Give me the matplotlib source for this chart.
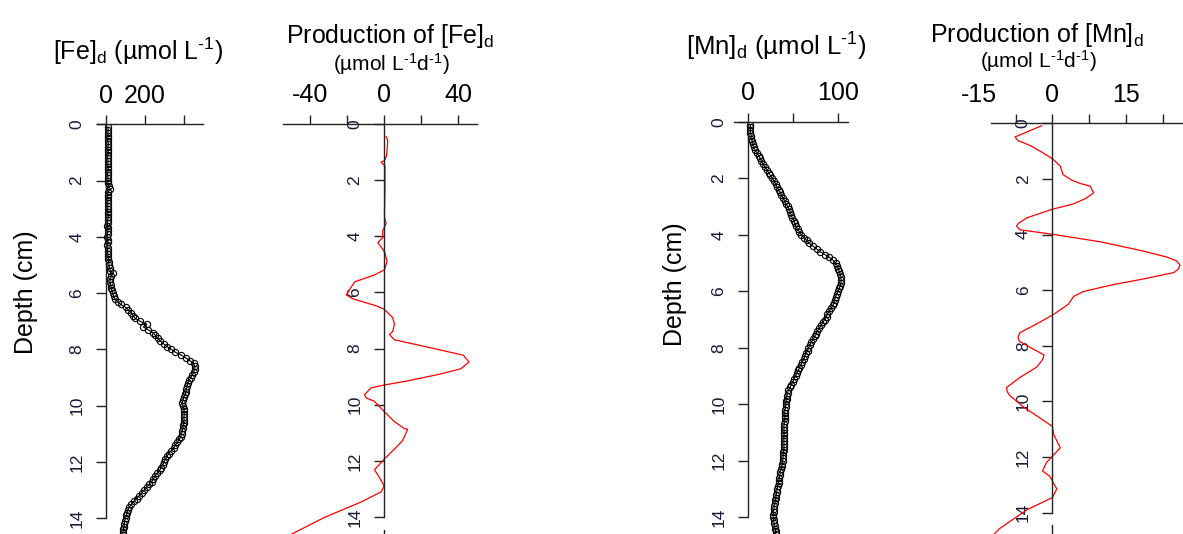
import numpy as np
import matplotlib
matplotlib.use('Agg')
import matplotlib.pyplot as plt

plt.rcParams['font.family'] = ['Liberation Sans', 'DejaVu Sans']
plt.rcParams['mathtext.fontset'] = 'custom'
plt.rcParams['mathtext.rm'] = 'Liberation Sans'
plt.rcParams['mathtext.default'] = 'regular'

# Глубина отбора (см), шаг 0.1
depth = np.round(np.arange(0.1, 14.65, 0.1), 1)

# [Fe]d, мкмоль/л
fe_conc = [10, 12, 9, 11, 10, 8, 12, 10, 9, 11,
           10, 8, 11, 9, 10, 12, 9, 8, 10, 11,
           9, 14, 22, 10, 8, 9, 11, 8, 10, 9,
           8, 10, 12, 9, 8, 7, 10, 9, 8, 7,
           9, 8, 7, 10, 8, 9, 11, 12, 14, 16,
           18, 22, 35, 28, 22, 20, 24, 26, 30, 35,
           40, 45, 60, 75, 100, 115, 130, 140, 150, 175,
           209, 191, 215, 240, 252, 265, 278, 295, 313, 335,
           356, 385, 409, 430, 449, 455, 456, 450, 443, 435,
           426, 420, 417, 412, 409, 405, 400, 395, 391, 395,
           400, 400, 402, 400, 400, 398, 396, 394, 391, 388,
           383, 375, 365, 356, 348, 335, 322, 313, 304, 298,
           292, 283, 275, 262, 252, 243, 235, 222, 209, 196,
           183, 170, 157, 143, 130, 120, 113, 108, 104, 100,
           96, 94, 92, 89, 87, 85]

# [Mn]d, мкмоль/л
mn_conc = [3, 3, 3, 3, 4, 4, 5, 6, 7, 8,
           10, 12, 14, 15, 17, 19, 21, 23, 25, 27,
           29, 31, 32, 34, 36, 37, 39, 41, 42, 44,
           46, 47, 48, 49, 51, 52, 53, 55, 57, 59,
           62, 65, 68, 72, 76, 80, 85, 90, 94, 97,
           99, 100, 101, 102, 103, 103, 103, 102, 101, 100,
           98, 97, 96, 95, 94, 92, 90, 88, 87, 85,
           83, 81, 79, 77, 75, 74, 72, 70, 69, 67,
           66, 64, 63, 62, 60, 59, 57, 56, 54, 53,
           51, 50, 48, 47, 45, 44, 43, 43, 42, 42,
           42, 41, 41, 41, 41, 41, 40, 40, 40, 40,
           40, 40, 40, 40, 40, 40, 39, 39, 39, 38.5,
           38, 37.5, 37, 36, 35.6, 35, 34.5, 34, 33, 32.7,
           32, 31.5, 31, 30.5, 30, 29.5, 29, 28.5, 28, 28,
           29, 29, 30, 30, 31, 31]

# Продукция [Fe]d, мкмоль/л/сут
fe_prod_depth = [0.46, 0.6, 1.13, 1.31, 1.37, 1.5, 2.35, 3.3, 3.56, 3.8,
                 4.05, 4.23, 4.47, 4.6, 4.9, 5.2, 5.38, 5.63, 6.0, 6.09,
                 6.23, 6.48, 6.6, 6.9, 7.14, 7.39, 7.5, 7.69, 7.87, 8.06,
                 8.24, 8.48, 8.72, 8.9, 9.15, 9.3, 9.4, 9.64, 9.76, 9.88,
                 10.24, 10.6, 10.85, 10.87, 11.28, 11.58, 11.94, 12.19, 12.31, 12.5,
                 12.8, 12.9, 13.1, 13.46, 14.0, 14.6]
fe_prod = [1.1, 2, 1.4, 0.2, -1.6, 0.5, 0.5, 0.2, 1.1, -0.7,
           -0.7, -3.4, -0.7, 0.5, 1.6, 0.2, -5.2, -16, -19.6, -20.5,
           -17, -4.3, 0, 4.7, 5.6, 4.7, 2.9, 5.6, 18, 31,
           43, 46, 41.6, 31, 12.8, 0, -7, -10.6, -9.7, -5.2,
           0, 5.6, 11, 12.8, 10, 5.6, 0, -3.4, -5.2, -3.4,
           -0.7, 0, -1.6, -12.4, -32, -50]

# Продукция [Mn]d, мкмоль/л/сут
mn_prod_depth = [0.09, 0.49, 0.62, 0.8, 1.0, 1.27, 1.54, 1.85, 2.05, 2.16,
                 2.26, 2.5, 2.7, 2.9, 3.09, 3.4, 3.6, 3.7, 3.83, 3.99,
                 4.26, 4.57, 4.81, 4.95, 5.1, 5.25, 5.37, 5.62, 5.8, 6.05,
                 6.23, 6.5, 6.9, 7.28, 7.53, 7.7, 7.84, 8.09, 8.33, 8.5,
                 8.77, 9.14, 9.5, 9.65, 9.8, 10.2, 10.6, 10.9, 11.2, 11.67,
                 11.98, 12.2, 12.5, 12.7, 13.15, 13.46, 13.9, 14.57, 14.8]
mn_prod = [-2.2, -7.6, -7.0, -4.5, -2.5, 0, 1.6, 2.2, 4.0, 5.6,
           7.7, 8.4, 6.8, 4.3, 0, -5.2, -6.9, -7.3, -6.6, 0,
           9.7, 17.9, 23.3, 25.3, 26.0, 25.6, 24.7, 17.9, 12.4, 6.3,
           4.3, 3.3, 0, -3.9, -6.6, -7.0, -6.7, -4.2, -1.7, -2.0,
           -3.2, -6.6, -9.3, -9.2, -8.6, -5.9, -2.5, 0, 0.3, 1.6,
           0, -1.2, -2.0, -0.5, 0.9, 0, -5.2, -10.7, -12]

W, H = 1183, 534
fig = plt.figure(figsize=(W / 100, H / 100), dpi=100)


def px_axes(left, right, top, bottom=H):
    return fig.add_axes([left / W, 1 - bottom / H, (right - left) / W, (bottom - top) / H])


def style_axes(ax, xlim, ybot, xticks, xlabels, xbounds=None):
    ax.set_xlim(*xlim)
    ax.set_ylim(ybot, 0)
    ax.patch.set_visible(False)
    for s in ['right', 'bottom']:
        ax.spines[s].set_visible(False)
    ax.spines['left'].set_position(('data', 0))
    ax.spines['left'].set_bounds(0, 14)
    if xbounds is not None:
        ax.spines['top'].set_bounds(*xbounds)
    for s in ['left', 'top']:
        ax.spines[s].set_color('#222222')
        ax.spines[s].set_linewidth(1.0)
    ax.xaxis.set_ticks_position('top')
    ax.set_xticks(xticks)
    ax.set_xticklabels(xlabels)
    ax.tick_params(axis='x', direction='out', length=6.5, width=1.0, color='#222222',
                   pad=5.5, labelsize=18)
    ax.set_yticks(range(0, 15, 2))
    ax.tick_params(axis='y', direction='out', length=7, width=1.0, color='#222222',
                   pad=8.5, labelsize=12.5, labelrotation=90, labelcolor='#1a1a3a')
    for lab in ax.get_yticklabels():
        lab.set_va('center')


# Fe, концентрация
ax1 = px_axes(96.7, 202.7, 124.3)
style_axes(ax1, (-47.7, 495.9), 14.56, [0, 200, 400], ['0', '200', ''])
ax1.plot(fe_conc, depth, color='black', lw=0.8, marker='o', ms=4.5,
         mfc='none', mec='black', mew=0.8)

# Fe, продукция
ax2 = px_axes(283.3, 476.7, 123.7)
style_axes(ax2, (-54.6, 50.2), 14.60, [-40, -20, 0, 20, 40], ['-40', '', '0', '', '40'])
ax2.plot(fe_prod, fe_prod_depth, color='red', lw=0.9)
ax2.axvline(0, ymin=0, ymax=1 - 14.45 / 14.60, color='#222222', lw=1.0)

# Mn, концентрация
ax3 = px_axes(734.3, 848.3, 121.7)
style_axes(ax3, (-14.8, 111.0), 14.59, [0, 50, 100], ['0', '', '100'])
ax3.plot(mn_conc, depth, color='black', lw=0.8, marker='o', ms=4.5,
         mfc='none', mec='black', mew=0.8)

# Mn, продукция
ax4 = px_axes(960, 1183, 123.3)
style_axes(ax4, (-18.8, 26.6), 14.77, [-15, -7.5, 0, 7.5, 15, 22.5],
           ['-15', '', '0', '', '15', ''], xbounds=(-12.5, 26.6))
ax4.xaxis.get_major_ticks()[0].tick2line.set_visible(False)
ax4.plot(mn_prod, mn_prod_depth, color='red', lw=0.9)
ax4.axvline(0, ymin=0, ymax=1 - 14.45 / 14.77, color='#222222', lw=1.0)


def ftext(x, y, s, size, **kw):
    fig.text(x / W, 1 - y / H, s, fontsize=size, ha='center', va='baseline', **kw)


sup = r'$^{\text{-1}}$'
ftext(137.5, 60, r'[Fe]$_{d}$ (µmol L' + sup + ')', 18)
ftext(390, 43.3, r'Production of [Fe]$_{d}$', 18)
ftext(391.7, 71, r'(µmol L' + sup + 'd' + sup + ')', 15)
ftext(776.7, 56, r'[Mn]$_{d}$ (µmol L' + sup + ')', 18.5)
ftext(1036.5, 41.7, r'Production of [Mn]$_{d}$', 18)
ftext(1038.3, 68, r'(µmol L' + sup + 'd' + sup + ')', 15)

fig.text(26 / W, 1 - 292 / H, 'Depth (cm)', fontsize=18, rotation=90,
         ha='center', va='center')
fig.text(675 / W, 1 - 284 / H, 'Depth (cm)', fontsize=18, rotation=90,
         ha='center', va='center')

fig.savefig('out.png', dpi=100)
